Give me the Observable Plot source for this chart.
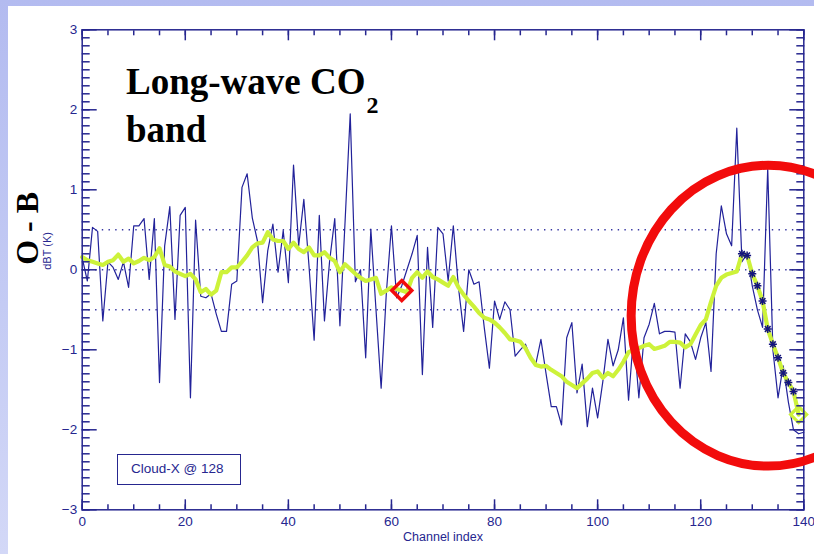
<!DOCTYPE html>
<html>
<head>
<meta charset="utf-8">
<script src="https://cdn.jsdelivr.net/npm/d3@7"></script>
<script src="https://cdn.jsdelivr.net/npm/@observablehq/plot@0.6"></script>
<style>
  html, body { margin: 0; padding: 0; }
  body {
    width: 814px; height: 554px; overflow: hidden; position: relative;
    background: linear-gradient(180deg, #b3bbf0 0%, #c4cbf4 55%, #d3d8f7 100%);
  }
  #sheet { position: absolute; left: 8px; top: 6px; right: 0; bottom: 0; background: #fff; }
  #chart { position: absolute; left: 0; top: 0; }
  #headline {
    position: absolute; left: 126px; top: 60px; margin: 0;
    font: bold 37px "Liberation Serif", "Times New Roman", serif;
    line-height: 43px; color: #000; white-space: nowrap;
  }
  #headline .sub { font-size: 24px; position: relative; top: 19px; margin-left: 1px; }
  #key {
    position: absolute; left: 117px; top: 454px; width: 124px; height: 31px;
    box-sizing: border-box; border: 1.5px solid #26268f; background: #fff;
    font: 13.5px "Liberation Sans", Arial, sans-serif; color: #26268f;
    line-height: 28px; padding-left: 13px; white-space: nowrap;
  }
</style>
</head>
<body>
<div id="sheet"></div>
<div id="chart"></div>
<div id="headline">Long-wave CO<span class="sub">2</span><br>band</div>
<div id="key">Cloud-X @ 128</div>
<script>
// Observed minus background brightness temperature, channels 0..140
const obsMinusBg = [
  0.15, -0.14, 0.53, 0.48, -0.64, 0.10, 0.03, -0.12, 0.10, -0.22,
  0.55, 0.55, 0.64, -0.12, 0.64, -1.41, 0.30, 0.79, -0.62, 0.68,
  0.78, -1.60, 0.62, -0.33, -0.35, -0.30, -0.55, -0.77, -0.77, -0.18,
  -0.14, 1.03, 1.20, 0.65, 0.36, -0.41, 0.24, 0.57, -0.03, 0.49,
  -0.16, 1.31, 0.30, 0.88, 0.05, -0.88, 0.68, -0.64, 0.11, 0.64,
  -0.70, 0.60, 1.95, -0.15, 0.00, -1.10, 0.51, -0.50, -1.48, -0.30,
  0.55, -0.35, -0.20, 0.00, 0.20, 0.43, -1.31, 0.28, -0.72, 0.53,
  0.45, -0.14, 0.55, -0.22, -0.77, 0.00, -0.18, -0.15, -0.72, -1.23,
  -0.39, -0.62, -0.40, -0.50, -1.08, -1.00, -0.93, -1.10, -1.18, -0.87,
  -1.30, -1.71, -1.71, -1.94, -0.85, -0.66, -1.54, -1.18, -1.96, -1.48,
  -1.85, -1.40, -0.87, -1.20, -1.00, -0.60, -1.63, -0.80, -1.60, -0.85,
  -0.68, -0.42, -0.80, -0.77, -0.77, -0.78, -1.48, -0.80, -0.90, -1.12,
  -0.85, -0.66, -1.27, 0.20, 0.80, 0.45, 0.30, 1.77, 0.10, 0.20,
  -0.20, -0.50, -0.72, 1.27, -1.00, -1.60, -1.20, -1.65, -2.00, -2.05,
  -2.03
];

// Running mean of the departures, channels 0..139
const smoothed = [
  0.16, 0.12, 0.10, 0.08, 0.06, 0.10, 0.12, 0.19, 0.10, 0.14,
  0.08, 0.11, 0.15, 0.12, 0.16, 0.27, 0.06, 0.04, -0.02, -0.05,
  -0.08, -0.05, -0.12, -0.28, -0.24, -0.31, -0.26, -0.03, -0.03, 0.03,
  0.03, 0.10, 0.18, 0.28, 0.33, 0.34, 0.47, 0.38, 0.36, 0.36,
  0.26, 0.34, 0.26, 0.22, 0.28, 0.18, 0.18, 0.22, 0.15, 0.11,
  -0.03, 0.07, 0.01, -0.05, -0.10, -0.14, -0.12, -0.10, -0.30, -0.26,
  -0.22, -0.24, -0.26, -0.28, -0.10, -0.03, -0.10, -0.02, -0.09, -0.12,
  -0.16, -0.20, -0.09, -0.22, -0.31, -0.39, -0.46, -0.54, -0.60, -0.62,
  -0.66, -0.72, -0.79, -0.87, -0.88, -0.90, -0.98, -1.10, -1.19, -1.21,
  -1.20, -1.25, -1.29, -1.33, -1.40, -1.44, -1.48, -1.42, -1.36, -1.29,
  -1.27, -1.35, -1.29, -1.33, -1.25, -1.15, -1.03, -1.00, -0.98, -0.95,
  -0.93, -0.99, -0.97, -0.95, -0.90, -0.90, -0.91, -0.97, -0.93, -0.81,
  -0.69, -0.62, -0.40, -0.20, -0.10, -0.06, -0.04, -0.02, 0.20, 0.18,
  -0.05, -0.20, -0.39, -0.74, -0.93, -1.10, -1.29, -1.41, -1.52, -1.81
];

// Channels flagged as cloud-affected, and the two highlighted channels
const cloudyChannels = [128, 129, 130, 131, 132, 133, 134, 135, 136, 137, 138];
const referenceChannel = [62];
const lastChannel = [139];

// Axis ticks
const xTicks = [0, 20, 40, 60, 80, 100, 120, 140];
const xMinorTicks = d3.range(0, 141, 5);
const yTicks = [-3, -2, -1, 0, 1, 2, 3];
const yMinorTicks = d3.range(-30, 31).map(k => k / 10);
const guideLevels = [-0.5, 0, 0.5];

// Highlight ring around the cloudy channels (data units)
const ring = {channel: 133.2, value: -0.58, halfWidth: 26.6, halfHeight: 1.88};

const navy = "#26268f";
const lime = "#cdf23a";
const red = "#f20c0c";
const minus = d => d < 0 ? `\u2212${-d}` : `${d}`;

function ringMark(index, {x, y}) {
  const cx = x(ring.channel), cy = y(ring.value);
  return d3.create("svg:ellipse")
    .attr("cx", cx).attr("cy", cy)
    .attr("rx", Math.abs(x(ring.channel + ring.halfWidth) - cx))
    .attr("ry", Math.abs(y(ring.value + ring.halfHeight) - cy))
    .attr("fill", "none").attr("stroke", red).attr("stroke-width", 9)
    .node();
}

const tickStyle = {fill: "none", stroke: navy, strokeWidth: 1.5};

const chart = Plot.plot({
  width: 814,
  height: 554,
  marginLeft: 81.7,
  marginRight: 10.7,
  marginTop: 29.3,
  marginBottom: 44.7,
  style: {background: "transparent", overflow: "hidden", color: navy,
          fontFamily: "'Liberation Sans', Arial, sans-serif", fontSize: "13px"},
  x: {domain: [0, 140]},
  y: {domain: [-3, 3]},
  marks: [
    Plot.ruleY(guideLevels, {stroke: "#3636a2", strokeWidth: 1.4, strokeDasharray: "1.4,5.3"}),
    Plot.line(obsMinusBg, {x: (d, i) => i, y: d => d, stroke: "#22229a", strokeWidth: 1.2}),
    Plot.line(smoothed, {x: (d, i) => i, y: d => d, stroke: lime, strokeWidth: 4.2,
                         strokeLinejoin: "round", strokeLinecap: "round"}),
    Plot.dot(cloudyChannels, {x: c => c, y: c => smoothed[c], symbol: "plus", r: 2.7,
                              stroke: "#14147e", strokeWidth: 1.5}),
    Plot.dot(cloudyChannels, {x: c => c, y: c => smoothed[c], symbol: "times", r: 2.7,
                              stroke: "#14147e", strokeWidth: 1.5}),
    Plot.dot(referenceChannel, {x: c => c, y: c => smoothed[c], symbol: "diamond2", r: 9,
                                fill: "none", stroke: red, strokeWidth: 3.5}),
    Plot.dot(lastChannel, {x: c => c, y: c => smoothed[c], symbol: "diamond2", r: 7.2,
                           fill: "none", stroke: lime, strokeWidth: 3.2}),
    // inward ticks on all four sides
    Plot.axisX(xMinorTicks, {anchor: "bottom", tickSize: -5, ...tickStyle}),
    Plot.axisX(xTicks, {anchor: "bottom", tickSize: -10, ...tickStyle}),
    Plot.axisX(xMinorTicks, {anchor: "top", tickSize: -5, ...tickStyle}),
    Plot.axisX(xTicks, {anchor: "top", tickSize: -10, ...tickStyle}),
    Plot.axisY(yMinorTicks, {anchor: "left", tickSize: -8, ...tickStyle}),
    Plot.axisY(yTicks, {anchor: "left", tickSize: -15, ...tickStyle}),
    Plot.axisY(yMinorTicks, {anchor: "right", tickSize: -8, ...tickStyle}),
    Plot.axisY(yTicks, {anchor: "right", tickSize: -15, ...tickStyle}),
    // tick labels
    Plot.axisX(xTicks, {anchor: "bottom", tickSize: 0, tickPadding: 7, label: null,
                        fill: navy, fontSize: 13.5}),
    Plot.axisY(yTicks, {anchor: "left", tickSize: 0, tickPadding: 5, label: null,
                        tickFormat: minus, fill: navy, fontSize: 13.5}),
    Plot.frame({stroke: navy, strokeWidth: 1.5}),
    Plot.text(["Channel index"], {frameAnchor: "bottom", dy: 31, fill: navy, fontSize: 12.5}),
    Plot.text(["dBT (K)"], {frameAnchor: "left", dx: -35, rotate: -90, fill: navy, fontSize: 11}),
    Plot.text(["O - B"], {frameAnchor: "left", dx: -54, dy: -5, rotate: -90, fill: "#000",
                          fontSize: 32, fontWeight: "bold",
                          fontFamily: "'Liberation Serif', 'Times New Roman', serif"}),
    ringMark
  ]
});

document.getElementById("chart").append(chart);
</script>
</body>
</html>
